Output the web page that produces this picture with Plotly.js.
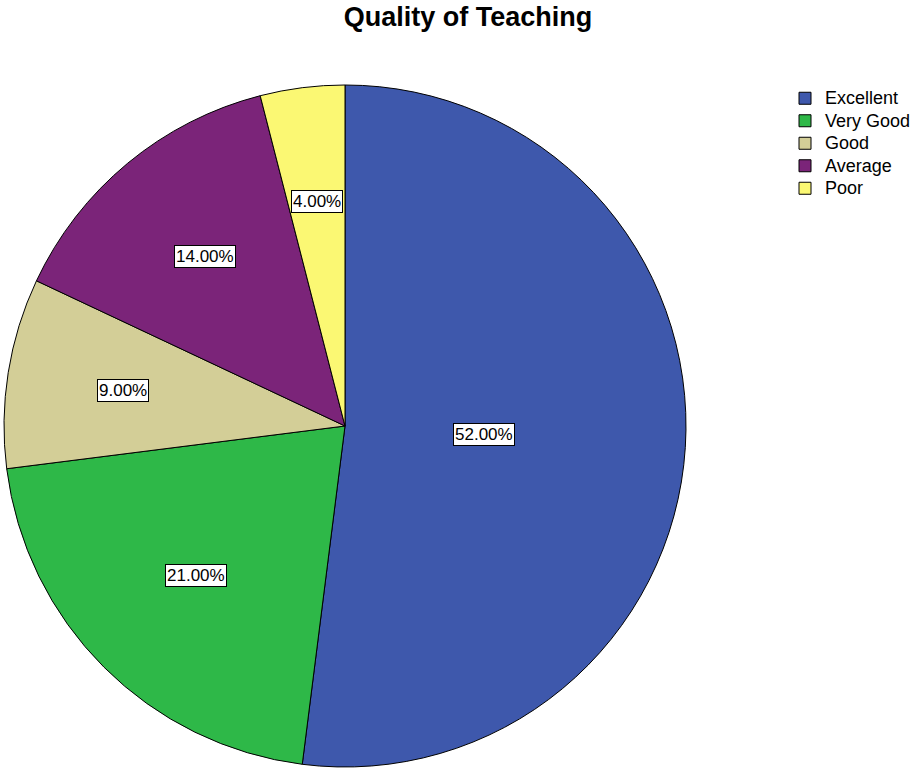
<!DOCTYPE html>
<html>
<head>
<meta charset="utf-8">
<script src="https://cdn.plot.ly/plotly-3.0.1.min.js"></script>
<style>html,body{margin:0;padding:0;background:#fff;}#chart{width:917px;height:768px;}</style>
</head>
<body>
<div id="chart"></div>
<script>
const categories = ["Excellent", "Very Good", "Good", "Average", "Poor"];
const percents = [52, 21, 9, 14, 4];
const colors = ["#3E58AC", "#2EB848", "#D3CE97", "#7B2479", "#FBF873"];

const W = 917, H = 768;
const domX = [4 / W, 686 / W];
const domY = [1 - 767 / H, 1 - 85 / H];
const cx = (domX[0] + domX[1]) / 2, cy = (domY[0] + domY[1]) / 2;
const R = (domX[1] - domX[0]) * W / 2;

const total = percents.reduce((a, b) => a + b, 0);
const annotations = [];
let cum = 0;
percents.forEach((v, i) => {
  const frac = v / total;
  const half = Math.PI * frac; // half-angle in radians
  const mid = 2 * Math.PI * (cum + frac / 2);
  cum += frac;
  const r = R * 2 * Math.sin(half) / (3 * half); // sector centroid
  annotations.push({
    xref: "paper", yref: "paper",
    x: cx + r * Math.sin(mid) / W,
    y: cy + r * Math.cos(mid) / H,
    xanchor: "center", yanchor: "middle",
    text: v.toFixed(2) + "%",
    showarrow: false,
    font: {family: "Liberation Sans, Arial, sans-serif", size: 17, color: "#000"},
    bgcolor: "#fff", bordercolor: "#000", borderwidth: 1, borderpad: 1
  });
});

const legendLabels = categories.map(c => '<span style="font-size:18px">' + c + '</span>');

const data = [{
  type: "pie",
  labels: legendLabels,
  values: percents,
  sort: false,
  direction: "clockwise",
  rotation: 0,
  marker: {colors: colors, line: {color: "#000", width: 1}},
  textinfo: "none",
  hoverinfo: "percent",
  domain: {x: domX, y: domY}
}];

const layout = {
  width: W, height: H,
  margin: {l: 0, r: 0, t: 0, b: 0, autoexpand: false},
  paper_bgcolor: "#fff",
  title: {text: "<b>Quality of Teaching</b>", x: 468 / W, xanchor: "center", y: 1 - 17 / H, yanchor: "middle",
          font: {family: "Liberation Sans, Arial, sans-serif", size: 27, color: "#000"}},
  showlegend: true,
  legend: {x: 785 / W, xanchor: "left", y: 1 - 82 / H, yanchor: "top",
           font: {family: "Liberation Sans, Arial, sans-serif", size: 15, color: "#000"},
           itemwidth: 30, tracegroupgap: 0, bgcolor: "rgba(0,0,0,0)"},
  annotations: annotations
};

Plotly.newPlot("chart", data, layout, {displayModeBar: false, staticPlot: true});
</script>
</body>
</html>
